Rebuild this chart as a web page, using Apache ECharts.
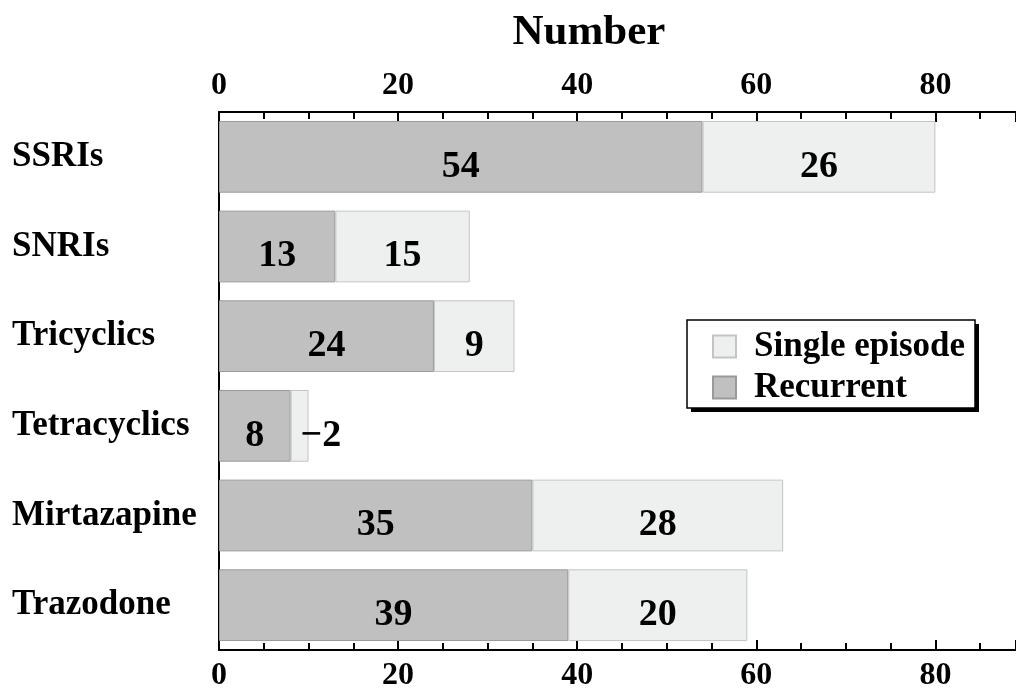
<!DOCTYPE html>
<html><head><meta charset="utf-8">
<script src="https://cdn.jsdelivr.net/npm/echarts@6/dist/echarts.min.js"></script>
<style>html,body{margin:0;padding:0;background:#fff}#c{width:1016px;height:695px}</style>
</head><body><div id="c"></div>
<script>
const categories = ['SSRIs','SNRIs','Tricyclics','Tetracyclics','Mirtazapine','Trazodone'];
const recurrent = [54,13,24,8,35,39];
const single = [26,15,9,2,28,20];
const tickValues = [0,20,40,60,80];
const F = '"Liberation Serif","DejaVu Serif",serif';
const chart = echarts.init(document.getElementById('c'));
const axisCommon = {
  type:'value', min:0, max:89, interval:20,
  axisLine:{show:true, lineStyle:{color:'#000', width:2}},
  axisTick:{show:true, inside:true, length:10, lineStyle:{color:'#000', width:2}},
  minorTick:{show:true, splitNumber:4, length:7, lineStyle:{color:'#000', width:2}},
  splitLine:{show:false},
  axisLabel:{color:'#000', fontFamily:F, fontWeight:'bold', fontSize:32, margin:10, showMaxLabel:false,
    formatter: v => tickValues.includes(v) ? String(v) : ''}
};
const barLabel = {show:true, position:'inside', offset:[0,10], fontFamily:F, fontWeight:'bold', fontSize:38, color:'#000'};
chart.setOption({
  animation:false,
  title:{text:'Number', left:584, top:6, textAlign:'center', textStyle:{fontFamily:F, fontWeight:'bold', fontSize:43, color:'#000'}},
  grid:{left:219, right:0, top:112, bottom:45},
  graphic:[
    {type:'rect', z:5, shape:{x:691, y:324, width:288, height:88}, style:{fill:'#000'}},
    {type:'rect', z:6, shape:{x:687, y:320, width:288, height:88}, style:{fill:'#fff', stroke:'#000', lineWidth:1.5}}
  ],
  legend:{
    data:['Single episode','Recurrent'], orient:'vertical', left:712, top:327, z:10,
    padding:0, itemGap:2, itemWidth:23, itemHeight:22, icon:'rect',
    textStyle:{fontFamily:F, fontWeight:'bold', fontSize:35, lineHeight:35, color:'#000', padding:[4,0,0,13]}
  },
  xAxis:[Object.assign({position:'top'}, axisCommon), Object.assign({position:'bottom'}, axisCommon)],
  yAxis:{type:'category', data:categories, inverse:true,
    axisLine:{show:true, lineStyle:{color:'#000', width:2}}, axisTick:{show:false},
    axisLabel:{color:'#000', fontFamily:F, fontWeight:'bold', fontSize:35, align:'left', margin:207, padding:[10,0,0,0]}},
  series:[
    {name:'Recurrent', type:'bar', stack:'a', xAxisIndex:0, data:recurrent, barCategoryGap:'20%',
      itemStyle:{color:'#c0c0c0', borderColor:'#9a9a9a', borderWidth:1},
      label:barLabel},
    {name:'Single episode', type:'bar', stack:'a', xAxisIndex:0,
      data: single.map((v,i)=> v < 5 ? {value:v, label:{position:'right', distance:-8, formatter:'\u2212{c}'}} : v),
      itemStyle:{color:'#eef0ef', borderColor:'#c4c4c4', borderWidth:1},
      label:barLabel}
  ]
});
</script></body></html>
